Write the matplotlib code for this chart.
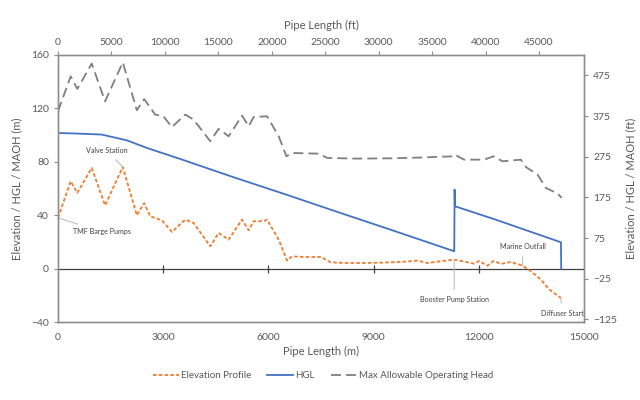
import matplotlib
matplotlib.use('Agg')
import numpy as np
import matplotlib.pyplot as plt

M2FT = 3.28084

# elevation profile (m)
elev_x = [0, 362, 552, 962, 1343, 1848, 2248, 2457, 2629, 2962, 3248, 3629, 3867,
          4343, 4581, 4867, 5248, 5438, 5581, 5867, 5962, 6295, 6533, 6676, 7000,
          7500, 7771, 8200, 8800, 9400, 9900, 10248, 10533, 10900, 11295, 11600,
          11867, 12010, 12248, 12419, 12629, 12914, 13248, 13486, 13771, 14010, 14343]
elev_y = [38, 65.4, 56.7, 75.4, 47.4, 76.1, 40, 49, 39.2, 36.2, 27.5, 36.7, 34.2,
          16.7, 26.7, 21.7, 36.7, 28.7, 35.5, 35.5, 36.7, 21.7, 6, 9.2, 8.7,
          8.7, 4.7, 4.2, 4.2, 4.6, 5.2, 6, 4.2, 5.5, 6.7, 5.2,
          3.7, 5.7, 2.2, 5.7, 3.5, 5, 2.2, -2, -8.2, -15.7, -22]

# hydraulic grade line (m)
hgl_x = [0, 500, 1248, 1962, 2533, 3500, 5000, 6500, 7771, 9500, 11300, 11310, 11320, 12500, 14343, 14350]
hgl_y = [101.6, 101.2, 100.4, 96.1, 90.4, 82, 68.5, 55.5, 44.2, 29, 13, 59.2, 46.7, 36.5, 19.7, 0]

# max allowable operating head (m)
maoh_x = [0, 362, 552, 962, 1343, 1848, 2248, 2457, 2771, 3010, 3248, 3629, 3867,
          4343, 4581, 4867, 5248, 5438, 5581, 5962, 6295, 6514, 6676, 7438, 7676,
          8500, 9500, 10343, 11248, 11314, 11581, 12152, 12419, 12676, 13200, 13343,
          13676, 13914, 14248, 14362]
maoh_y = [117.8, 144, 134.6, 153.6, 125.3, 154.5, 118.6, 127, 115.4, 114, 106, 115.4, 111.6,
          95.4, 104.7, 99.1, 114.6, 106.6, 113.6, 114.1, 99.1, 84.1, 86.6, 86.1, 82.9,
          82.4, 82.6, 83.2, 84.1, 85.4, 81.6, 81.6, 84.1, 80.4, 81.6, 76.1,
          70.4, 60.4, 56.2, 53]

x_ticks_m = [0, 3000, 6000, 9000, 12000, 15000]
y_ticks_m = [-40, 0, 40, 80, 120, 160]
x_ticks_ft = [0, 5000, 10000, 15000, 20000, 25000, 30000, 35000, 40000, 45000]
y_ticks_ft = [-125, -25, 75, 175, 275, 375, 475]

# annotations: label, point, text position, alignment
notes = [
    ('TMF Barge Pumps', (0, 38), (420, 27.7), 'left'),
    ('Valve Station', (1848, 76.1), (1380, 88.4), 'center'),
    ('Booster Pump Station', (11300, 6.7), (11300, -23.2), 'center'),
    ('Marine Outfall', (13248, 2.2), (13248, 16.5), 'center'),
    ('Diffuser Start', (14343, -22), (14371, -33.7), 'center'),
]

plt.rcParams['font.family'] = ['Lato', 'DejaVu Sans']
txt = '#595959'
spine_c = '#8c8c8c'

fig = plt.figure(figsize=(6.4, 4), dpi=100)
ax = fig.add_axes([0.0906, 0.195, 0.8219, 0.6675])

l1, = ax.plot(elev_x, elev_y, color='#ED7D31', lw=1.3, linestyle=(0, (2, 1.2)), label='Elevation Profile')
l2, = ax.plot(hgl_x, hgl_y, color='#4472C4', lw=1.3, label='HGL')
l3, = ax.plot(maoh_x, maoh_y, color='#7F7F7F', lw=1.3, linestyle=(0, (5.5, 2.8)), label='Max Allowable Operating Head')

ax.set_xlim(0, 15000)
ax.set_ylim(-40, 160)
ax.set_xticks(x_ticks_m)
ax.set_yticks(y_ticks_m)
ax.tick_params(axis='x', length=0, labelsize=7.5, colors=txt, pad=8)
ax.tick_params(axis='y', length=3, labelsize=7.5, colors=spine_c, labelcolor=txt, direction='out')
ax.set_xlabel('Pipe Length (m)', fontsize=8, color=txt, labelpad=3)
ax.set_ylabel('Elevation / HGL / MAOH (m)', fontsize=8, color=txt, labelpad=6)
for s in ax.spines.values():
    s.set_color(spine_c)
    s.set_linewidth(0.9)

# zero line with crossing ticks
ax.axhline(0, color='#404040', lw=0.9, zorder=1)
ax.plot(x_ticks_m[1:-1], [0] * 4, linestyle='none', marker='|', markersize=6,
        color='#404040', mew=0.9)

for label, pt, tp, ha in notes:
    ax.annotate(label, xy=pt, xytext=tp, fontsize=5.1, color='#404040',
                ha=ha, va='center',
                arrowprops=dict(arrowstyle='-', color='#bfbfbf', lw=0.8, shrinkA=3, shrinkB=0))

ax2 = ax.twinx()
ax2.set_ylim(-40 * M2FT, 160 * M2FT)
ax2.set_yticks(y_ticks_ft)
ax2.tick_params(axis='y', length=3, labelsize=7.5, colors=spine_c, labelcolor=txt)
ax2.set_ylabel('Elevation / HGL / MAOH (ft)', fontsize=8, color=txt, labelpad=6)
for s in ax2.spines.values():
    s.set_color(spine_c)
    s.set_linewidth(0.9)

ax3 = ax.twiny()
ax3.set_xlim(0, 15000 * M2FT)
ax3.set_xticks(x_ticks_ft)
ax3.tick_params(axis='x', length=3, labelsize=7.5, colors=spine_c, labelcolor=txt, pad=3)
ax3.set_xlabel('Pipe Length (ft)', fontsize=8, color=txt, labelpad=6)
for s in ax3.spines.values():
    s.set_color(spine_c)
    s.set_linewidth(0.9)

fig.legend(handles=[l1, l2, l3], loc='center', bbox_to_anchor=(0.505, 0.06), ncol=3,
           frameon=False, fontsize=7, handlelength=2.6, handletextpad=0.3,
           columnspacing=1.6, labelcolor=txt)

plt.savefig('out.png', dpi=100)
